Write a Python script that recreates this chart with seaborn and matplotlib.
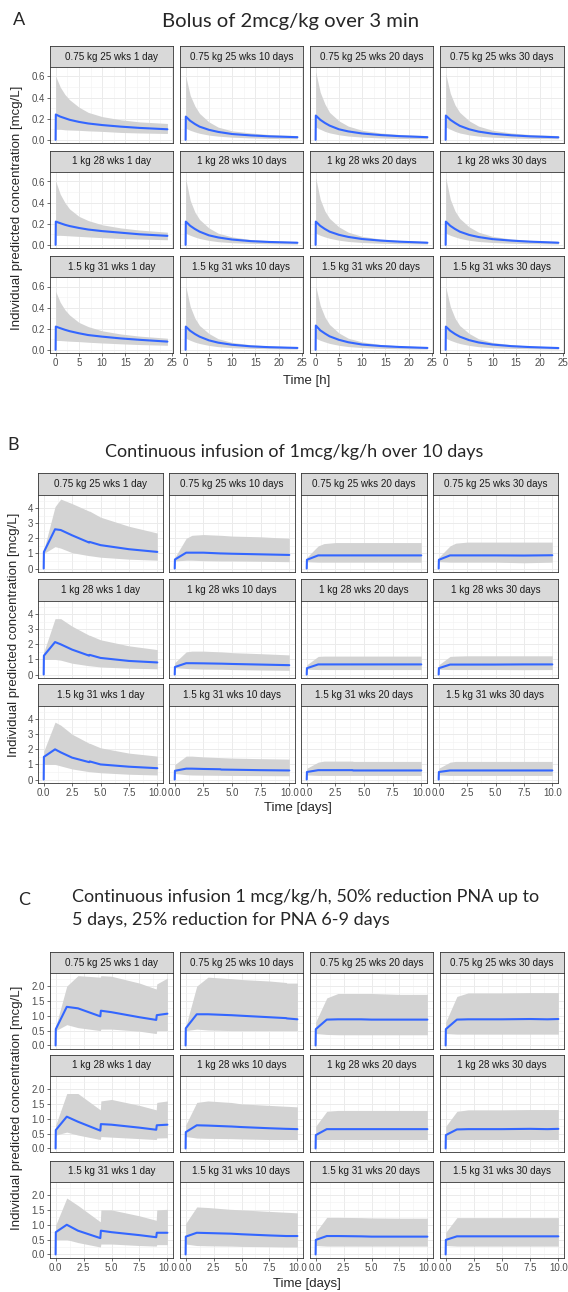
import matplotlib.pyplot as plt
import seaborn as sns
import pandas as pd

W, H = 568, 1292

facets = ["0.75 kg 25 wks 1 day", "0.75 kg 25 wks 10 days", "0.75 kg 25 wks 20 days", "0.75 kg 25 wks 30 days",
          "1 kg 28 wks 1 day", "1 kg 28 wks 10 days", "1 kg 28 wks 20 days", "1 kg 28 wks 30 days",
          "1.5 kg 31 wks 1 day", "1.5 kg 31 wks 10 days", "1.5 kg 31 wks 20 days", "1.5 kg 31 wks 30 days"]

# A: bolus, time in hours
a_time = [0, 0.05, 1, 2, 3, 5, 7, 10, 14, 18, 24]
a_mid = [
    [0, 0.24, 0.22, 0.205, 0.19, 0.17, 0.155, 0.14, 0.125, 0.113, 0.10],
    [0, 0.22, 0.18, 0.15, 0.125, 0.095, 0.075, 0.055, 0.042, 0.033, 0.025],
    [0, 0.23, 0.19, 0.16, 0.135, 0.10, 0.08, 0.06, 0.045, 0.035, 0.025],
    [0, 0.23, 0.19, 0.16, 0.133, 0.10, 0.078, 0.058, 0.043, 0.033, 0.024],
    [0, 0.22, 0.205, 0.19, 0.178, 0.16, 0.145, 0.13, 0.115, 0.10, 0.085],
    [0, 0.22, 0.18, 0.15, 0.125, 0.09, 0.07, 0.05, 0.035, 0.027, 0.02],
    [0, 0.22, 0.18, 0.15, 0.125, 0.095, 0.075, 0.055, 0.04, 0.03, 0.02],
    [0, 0.22, 0.18, 0.15, 0.125, 0.094, 0.074, 0.054, 0.04, 0.03, 0.02],
    [0, 0.22, 0.205, 0.19, 0.177, 0.157, 0.14, 0.125, 0.108, 0.095, 0.078],
    [0, 0.22, 0.18, 0.15, 0.125, 0.09, 0.068, 0.048, 0.033, 0.025, 0.018],
    [0, 0.23, 0.185, 0.155, 0.128, 0.095, 0.072, 0.05, 0.036, 0.027, 0.018],
    [0, 0.22, 0.18, 0.15, 0.125, 0.092, 0.07, 0.05, 0.035, 0.026, 0.017],
]
a_lo = [
    [0.10, 0.10, 0.10, 0.095, 0.093, 0.09, 0.085, 0.08, 0.07, 0.065, 0.06],
    [0.11, 0.11, 0.09, 0.075, 0.062, 0.045, 0.035, 0.025, 0.018, 0.013, 0.01],
    [0.12, 0.12, 0.10, 0.08, 0.066, 0.048, 0.036, 0.026, 0.018, 0.013, 0.01],
    [0.12, 0.12, 0.10, 0.08, 0.065, 0.047, 0.035, 0.025, 0.018, 0.013, 0.01],
    [0.09, 0.09, 0.09, 0.088, 0.085, 0.08, 0.075, 0.068, 0.06, 0.055, 0.048],
    [0.11, 0.11, 0.09, 0.074, 0.06, 0.042, 0.03, 0.02, 0.014, 0.01, 0.007],
    [0.11, 0.11, 0.09, 0.075, 0.062, 0.044, 0.032, 0.022, 0.015, 0.011, 0.008],
    [0.11, 0.11, 0.09, 0.075, 0.061, 0.043, 0.032, 0.022, 0.015, 0.011, 0.008],
    [0.09, 0.09, 0.088, 0.085, 0.082, 0.078, 0.072, 0.065, 0.057, 0.05, 0.043],
    [0.11, 0.11, 0.09, 0.073, 0.06, 0.042, 0.03, 0.02, 0.014, 0.01, 0.007],
    [0.11, 0.11, 0.09, 0.075, 0.061, 0.043, 0.031, 0.021, 0.014, 0.01, 0.007],
    [0.11, 0.11, 0.09, 0.074, 0.06, 0.042, 0.03, 0.02, 0.014, 0.01, 0.007],
]
a_hi = [
    [0.60, 0.60, 0.50, 0.43, 0.38, 0.31, 0.26, 0.22, 0.19, 0.17, 0.155],
    [0.60, 0.60, 0.42, 0.32, 0.25, 0.17, 0.12, 0.085, 0.065, 0.05, 0.04],
    [0.64, 0.64, 0.45, 0.34, 0.26, 0.18, 0.13, 0.09, 0.065, 0.05, 0.04],
    [0.62, 0.62, 0.44, 0.33, 0.26, 0.18, 0.13, 0.09, 0.065, 0.05, 0.04],
    [0.60, 0.60, 0.48, 0.40, 0.34, 0.27, 0.23, 0.19, 0.16, 0.14, 0.12],
    [0.62, 0.62, 0.42, 0.31, 0.24, 0.16, 0.11, 0.075, 0.05, 0.04, 0.03],
    [0.63, 0.63, 0.43, 0.32, 0.25, 0.17, 0.12, 0.08, 0.055, 0.042, 0.032],
    [0.63, 0.63, 0.43, 0.32, 0.25, 0.17, 0.12, 0.08, 0.055, 0.042, 0.032],
    [0.55, 0.55, 0.45, 0.38, 0.33, 0.26, 0.22, 0.18, 0.15, 0.13, 0.11],
    [0.60, 0.60, 0.41, 0.30, 0.23, 0.155, 0.105, 0.07, 0.048, 0.037, 0.028],
    [0.60, 0.60, 0.42, 0.31, 0.24, 0.16, 0.11, 0.075, 0.05, 0.038, 0.028],
    [0.59, 0.59, 0.41, 0.30, 0.23, 0.155, 0.105, 0.07, 0.048, 0.036, 0.027],
]

# B: continuous infusion, time in days
b_time = [0, 0.02, 1, 1.5, 2.5, 4, 4.05, 5, 7.5, 10]
b_mid = [
    [0, 1.1, 2.6, 2.55, 2.2, 1.72, 1.76, 1.55, 1.28, 1.1],
    [0, 0.6, 1.05, 1.05, 1.05, 1.0, 1.0, 0.98, 0.94, 0.9],
    [0, 0.58, 0.87, 0.87, 0.87, 0.87, 0.87, 0.87, 0.87, 0.87],
    [0, 0.58, 0.87, 0.87, 0.87, 0.87, 0.87, 0.87, 0.86, 0.88],
    [0, 1.25, 2.15, 2.0, 1.65, 1.25, 1.3, 1.1, 0.9, 0.8],
    [0, 0.5, 0.75, 0.75, 0.74, 0.72, 0.72, 0.7, 0.66, 0.62],
    [0, 0.42, 0.67, 0.67, 0.67, 0.67, 0.67, 0.67, 0.67, 0.67],
    [0, 0.42, 0.66, 0.66, 0.66, 0.66, 0.66, 0.66, 0.67, 0.67],
    [0, 1.5, 2.0, 1.8, 1.45, 1.15, 1.2, 1.0, 0.85, 0.75],
    [0, 0.58, 0.72, 0.72, 0.7, 0.68, 0.66, 0.65, 0.62, 0.6],
    [0, 0.5, 0.62, 0.62, 0.62, 0.62, 0.6, 0.6, 0.6, 0.6],
    [0, 0.5, 0.6, 0.6, 0.6, 0.6, 0.6, 0.6, 0.6, 0.6],
]
b_lo = [
    [1.0, 1.0, 1.45, 1.35, 1.05, 0.85, 0.85, 0.75, 0.62, 0.55],
    [0.5, 0.5, 0.55, 0.55, 0.52, 0.5, 0.5, 0.5, 0.48, 0.45],
    [0.45, 0.45, 0.42, 0.42, 0.42, 0.42, 0.42, 0.42, 0.42, 0.42],
    [0.45, 0.45, 0.42, 0.42, 0.42, 0.42, 0.42, 0.42, 0.38, 0.42],
    [1.0, 1.0, 1.0, 0.95, 0.75, 0.58, 0.58, 0.5, 0.42, 0.38],
    [0.45, 0.45, 0.4, 0.38, 0.36, 0.35, 0.35, 0.33, 0.3, 0.28],
    [0.35, 0.35, 0.33, 0.33, 0.33, 0.33, 0.33, 0.33, 0.33, 0.33],
    [0.35, 0.35, 0.33, 0.33, 0.33, 0.33, 0.33, 0.33, 0.32, 0.33],
    [1.0, 1.0, 1.0, 0.9, 0.7, 0.52, 0.52, 0.45, 0.35, 0.3],
    [0.4, 0.4, 0.32, 0.3, 0.29, 0.28, 0.28, 0.27, 0.26, 0.25],
    [0.3, 0.3, 0.27, 0.27, 0.27, 0.27, 0.27, 0.27, 0.27, 0.27],
    [0.3, 0.3, 0.27, 0.27, 0.27, 0.27, 0.27, 0.27, 0.27, 0.27],
]
b_hi = [
    [1.25, 1.25, 4.1, 4.6, 4.3, 3.8, 3.8, 3.4, 2.8, 2.35],
    [0.75, 0.75, 2.0, 2.2, 2.25, 2.2, 2.2, 2.15, 2.1, 2.0],
    [0.75, 0.75, 1.5, 1.65, 1.72, 1.72, 1.72, 1.72, 1.72, 1.72],
    [0.75, 0.75, 1.5, 1.68, 1.75, 1.75, 1.75, 1.75, 1.75, 1.75],
    [1.5, 1.5, 3.7, 3.7, 3.2, 2.6, 2.6, 2.3, 1.9, 1.65],
    [0.8, 0.8, 1.5, 1.55, 1.55, 1.5, 1.5, 1.45, 1.38, 1.3],
    [0.65, 0.65, 1.2, 1.22, 1.22, 1.22, 1.22, 1.22, 1.22, 1.22],
    [0.65, 0.65, 1.2, 1.22, 1.24, 1.24, 1.24, 1.24, 1.24, 1.24],
    [1.9, 1.9, 3.8, 3.6, 3.0, 2.4, 2.4, 2.1, 1.75, 1.55],
    [1.0, 1.0, 1.55, 1.55, 1.5, 1.45, 1.45, 1.42, 1.38, 1.35],
    [0.75, 0.75, 1.15, 1.22, 1.22, 1.22, 1.2, 1.2, 1.2, 1.2],
    [0.75, 0.75, 1.15, 1.2, 1.2, 1.2, 1.2, 1.2, 1.2, 1.2],
]

# C: continuous infusion with PNA-based reductions, time in days
c_time = [0, 0.02, 1, 2, 4, 4.05, 5, 7.5, 9, 9.05, 10]
c_mid = [
    [0, 0.55, 1.3, 1.25, 0.98, 1.17, 1.12, 0.95, 0.86, 1.02, 1.07],
    [0, 0.58, 1.05, 1.05, 1.02, 1.02, 1.0, 0.95, 0.92, 0.91, 0.88],
    [0, 0.55, 0.87, 0.88, 0.88, 0.88, 0.87, 0.87, 0.87, 0.87, 0.87],
    [0, 0.55, 0.87, 0.88, 0.88, 0.88, 0.88, 0.89, 0.88, 0.88, 0.89],
    [0, 0.62, 1.07, 0.9, 0.6, 0.82, 0.8, 0.7, 0.63, 0.78, 0.8],
    [0, 0.55, 0.78, 0.77, 0.74, 0.74, 0.72, 0.68, 0.66, 0.66, 0.65],
    [0, 0.45, 0.65, 0.65, 0.65, 0.65, 0.65, 0.65, 0.65, 0.65, 0.65],
    [0, 0.45, 0.64, 0.65, 0.65, 0.65, 0.65, 0.66, 0.65, 0.65, 0.66],
    [0, 0.75, 1.0, 0.8, 0.55, 0.8, 0.75, 0.65, 0.58, 0.73, 0.73],
    [0, 0.6, 0.73, 0.72, 0.7, 0.7, 0.68, 0.64, 0.62, 0.62, 0.62],
    [0, 0.49, 0.62, 0.62, 0.61, 0.61, 0.6, 0.6, 0.6, 0.6, 0.6],
    [0, 0.49, 0.61, 0.61, 0.61, 0.61, 0.61, 0.61, 0.61, 0.61, 0.61],
]
c_lo = [
    [0.5, 0.5, 0.7, 0.6, 0.5, 0.55, 0.55, 0.48, 0.4, 0.5, 0.5],
    [0.5, 0.5, 0.55, 0.52, 0.5, 0.5, 0.5, 0.5, 0.5, 0.5, 0.5],
    [0.4, 0.4, 0.37, 0.36, 0.36, 0.36, 0.36, 0.36, 0.36, 0.36, 0.36],
    [0.4, 0.4, 0.38, 0.38, 0.38, 0.38, 0.38, 0.38, 0.38, 0.38, 0.38],
    [0.45, 0.45, 0.55, 0.45, 0.3, 0.4, 0.38, 0.33, 0.3, 0.35, 0.36],
    [0.4, 0.4, 0.35, 0.34, 0.33, 0.33, 0.32, 0.3, 0.3, 0.3, 0.3],
    [0.3, 0.3, 0.3, 0.3, 0.3, 0.3, 0.3, 0.3, 0.3, 0.3, 0.3],
    [0.3, 0.3, 0.3, 0.3, 0.3, 0.3, 0.3, 0.3, 0.3, 0.3, 0.3],
    [0.5, 0.5, 0.5, 0.4, 0.25, 0.35, 0.35, 0.3, 0.28, 0.33, 0.33],
    [0.35, 0.35, 0.3, 0.29, 0.28, 0.28, 0.27, 0.26, 0.25, 0.25, 0.25],
    [0.3, 0.3, 0.28, 0.28, 0.28, 0.28, 0.28, 0.28, 0.28, 0.28, 0.28],
    [0.3, 0.3, 0.28, 0.28, 0.28, 0.28, 0.28, 0.28, 0.28, 0.28, 0.28],
]
c_hi = [
    [0.65, 0.65, 2.0, 2.35, 2.3, 2.35, 2.33, 2.1, 1.9, 2.07, 2.27],
    [0.65, 0.65, 2.0, 2.3, 2.25, 2.25, 2.22, 2.17, 2.12, 2.1, 2.1],
    [0.8, 0.8, 1.6, 1.75, 1.75, 1.75, 1.75, 1.72, 1.72, 1.72, 1.72],
    [0.8, 0.8, 1.65, 1.77, 1.77, 1.77, 1.77, 1.78, 1.78, 1.78, 1.78],
    [0.8, 0.8, 1.85, 1.85, 1.3, 1.6, 1.65, 1.45, 1.3, 1.55, 1.6],
    [0.8, 0.8, 1.55, 1.6, 1.55, 1.55, 1.5, 1.45, 1.42, 1.42, 1.4],
    [0.75, 0.75, 1.25, 1.28, 1.28, 1.28, 1.28, 1.28, 1.28, 1.28, 1.28],
    [0.75, 0.75, 1.25, 1.3, 1.3, 1.3, 1.3, 1.31, 1.31, 1.31, 1.31],
    [1.0, 1.0, 1.9, 1.65, 1.1, 1.5, 1.5, 1.3, 1.15, 1.5, 1.52],
    [1.05, 1.05, 1.6, 1.58, 1.52, 1.52, 1.5, 1.45, 1.42, 1.42, 1.4],
    [0.75, 0.75, 1.25, 1.25, 1.24, 1.24, 1.23, 1.22, 1.22, 1.22, 1.22],
    [0.75, 0.75, 1.24, 1.24, 1.24, 1.24, 1.24, 1.24, 1.24, 1.24, 1.24],
]

sns.set_theme(style="white")
plt.rcParams['font.family'] = ['Liberation Sans', 'DejaVu Sans']

fig = plt.figure(figsize=(W / 100, H / 100), dpi=100)


def px_axes(x0, y0, x1, y1):
    return fig.add_axes([x0 / W, 1 - y1 / H, (x1 - x0) / W, (y1 - y0) / H])


def draw_section(time, mid, lo, hi, cols, tops, strip_h, plot_h, xlim, ylim,
                 xticks, xlabels, yticks, ylabels, xminor, yminor):
    for i, name in enumerate(facets):
        r, c = divmod(i, 4)
        x0, x1 = cols[c]
        top = tops[r]
        st = px_axes(x0, top, x1, top + strip_h)
        st.set_facecolor('#D9D9D9')
        st.set_xticks([])
        st.set_yticks([])
        for s in st.spines.values():
            s.set_color('#333333')
            s.set_linewidth(0.6)
        st.text(0.5, 0.5, name, ha='center', va='center', fontsize=7.1, color='#1A1A1A',
                transform=st.transAxes)

        ax = px_axes(x0, top + strip_h, x1, top + strip_h + plot_h)
        ax.fill_between(time, lo[i], hi[i], color='#D3D3D3', lw=0, zorder=2)
        df = pd.DataFrame({'time': time, 'conc': mid[i]})
        sns.lineplot(data=df, x='time', y='conc', ax=ax, color='#3366FF', lw=1.5,
                     estimator=None, sort=False, zorder=3)
        ax.set_xlim(xlim)
        ax.set_ylim(ylim)
        ax.set_xticks(xticks)
        ax.set_yticks(yticks)
        ax.set_xticks(xminor, minor=True)
        ax.set_yticks(yminor, minor=True)
        ax.grid(which='major', color='#EBEBEB', lw=0.7, zorder=0)
        ax.grid(which='minor', color='#F2F2F2', lw=0.4, zorder=0)
        ax.set_axisbelow(True)
        ax.set_xlabel('')
        ax.set_ylabel('')
        for s in ax.spines.values():
            s.set_color('#333333')
            s.set_linewidth(0.6)
        ax.tick_params(which='major', length=2.2, width=0.5, color='#333333',
                       labelsize=7, labelcolor='#4D4D4D', pad=1.5)
        ax.tick_params(which='minor', length=0)
        if c == 0:
            ax.set_yticklabels(ylabels)
            ax.tick_params(axis='y', left=True)
        else:
            ax.set_yticklabels([])
            ax.tick_params(axis='y', left=False)
        if r == 2:
            ax.set_xticklabels(xlabels)
            ax.tick_params(axis='x', bottom=True)
        else:
            ax.set_xticklabels([])
            ax.tick_params(axis='x', bottom=False)


ylab = "Individual predicted concentration [mcg/L]"
title_font = ['Lato', 'DejaVu Sans']

# ---- A ----
cols_ac = [(50, 173), (180, 303), (310, 433), (440, 564)]
draw_section(a_time, a_mid, a_lo, a_hi, cols_ac, [46, 151, 256], 21, 76,
             (-1.2, 25.2), (-0.03, 0.69),
             [0, 5, 10, 15, 20, 25], ['0', '5', '10', '15', '20', '25'],
             [0, 0.2, 0.4, 0.6], ['0.0', '0.2', '0.4', '0.6'],
             [2.5, 7.5, 12.5, 17.5, 22.5], [0.1, 0.3, 0.5])
fig.text(19 / W, 1 - 20 / H, 'A', fontsize=13, family=title_font, ha='center', va='center')
fig.text(290 / W, 1 - 21 / H, 'Bolus of 2mcg/kg over 3 min', fontsize=14.6, family=title_font,
         ha='center', va='center')
fig.text(307 / W, 1 - 381 / H, 'Time [h]', fontsize=9.5, ha='center', va='center')
fig.text(17 / W, 1 - 208 / H, ylab, fontsize=9.5, rotation=90, ha='center', va='center')

# ---- B ----
cols_b = [(38, 163), (169, 295), (301, 427), (433, 558)]
draw_section(b_time, b_mid, b_lo, b_hi, cols_b, [473, 579, 684], 22, 77,
             (-0.5, 10.5), (-0.23, 4.87),
             [0, 2.5, 5, 7.5, 10], ['0.0', '2.5', '5.0', '7.5', '10.0'],
             [0, 1, 2, 3, 4], ['0', '1', '2', '3', '4'],
             [1.25, 3.75, 6.25, 8.75], [0.5, 1.5, 2.5, 3.5, 4.5])
fig.text(13 / W, 1 - 445 / H, 'B', fontsize=13, family=title_font, ha='center', va='center')
fig.text(105 / W, 1 - 452 / H, 'Continuous infusion of 1mcg/kg/h over 10 days', fontsize=13,
         family=title_font, ha='left', va='center')
fig.text(298 / W, 1 - 808 / H, 'Time [days]', fontsize=9.5, ha='center', va='center')
fig.text(14 / W, 1 - 635 / H, ylab, fontsize=9.5, rotation=90, ha='center', va='center')

# ---- C ----
draw_section(c_time, c_mid, c_lo, c_hi, cols_ac, [952, 1055, 1161], 21, 76,
             (-0.5, 10.5), (-0.12, 2.44),
             [0, 2.5, 5, 7.5, 10], ['0.0', '2.5', '5.0', '7.5', '10.0'],
             [0, 0.5, 1.0, 1.5, 2.0], ['0.0', '0.5', '1.0', '1.5', '2.0'],
             [1.25, 3.75, 6.25, 8.75], [0.25, 0.75, 1.25, 1.75, 2.25])
fig.text(24 / W, 1 - 900 / H, 'C', fontsize=13, family=title_font, ha='center', va='center')
fig.text(72 / W, 1 - 897 / H, 'Continuous infusion 1 mcg/kg/h, 50% reduction PNA up to',
         fontsize=13, family=title_font, ha='left', va='center')
fig.text(72 / W, 1 - 920 / H, '5 days, 25% reduction for PNA 6-9 days',
         fontsize=13, family=title_font, ha='left', va='center')
fig.text(307 / W, 1 - 1284 / H, 'Time [days]', fontsize=9.5, ha='center', va='center')
fig.text(17 / W, 1 - 1108 / H, ylab, fontsize=9.5, rotation=90, ha='center', va='center')

fig.savefig('out.png', dpi=100)
